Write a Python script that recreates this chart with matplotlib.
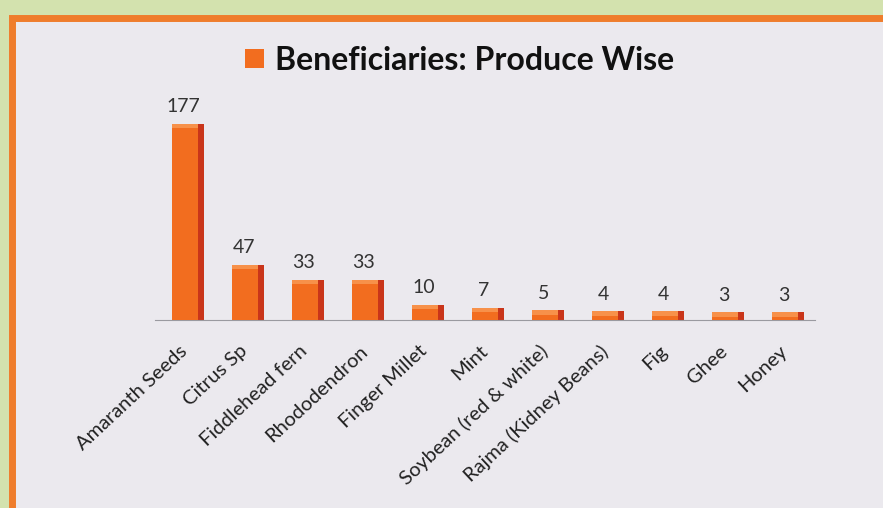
import matplotlib.pyplot as plt
from matplotlib.patches import Rectangle
from matplotlib.transforms import ScaledTranslation

# produce wise beneficiary counts
produce = ["Amaranth Seeds", "Citrus Sp", "Fiddlehead fern", "Rhododendron",
           "Finger Millet", "Mint", "Soybean (red & white)", "Rajma (Kidney Beans)",
           "Fig", "Ghee", "Honey"]
beneficiaries = [177, 47, 33, 33, 10, 7, 5, 4, 4, 3, 3]

plt.rcParams['font.family'] = ['Lato', 'DejaVu Sans']

fig = plt.figure(figsize=(8.83, 5.08), dpi=100)
fig.patch.set_facecolor('#d3e2ae')

# slide panel with orange frame, behind the chart
bg = fig.add_axes([0, 0, 1, 1], zorder=0)
bg.set_xlim(0, 883)
bg.set_ylim(508, 0)
bg.axis('off')
bg.add_patch(Rectangle((12, 18), 900, 520, facecolor='#ebe9ee',
                       edgecolor='#ef7d2c', linewidth=5))
# legend square next to title
bg.add_patch(Rectangle((245, 49), 19, 19, facecolor='#f26d1f', edgecolor='none'))

ax = fig.add_axes([155/883, 1 - 320/508, 660/883, 220/508], zorder=1)
ax.set_facecolor('none')

x = list(range(len(produce)))
w = 0.42
cap = 4
tops = [v + cap for v in beneficiaries]
# side face darker, top face lighter for the 3D look
ax.bar([i + w/2 + 0.055 for i in x], tops, width=0.11, color='#c9351a', zorder=2)
ax.bar(x, beneficiaries, width=w, color='#f26d1f', zorder=3)
ax.bar(x, [cap]*len(x), bottom=beneficiaries, width=w, color='#f7914a', zorder=3)

for i, v in zip(x, beneficiaries):
    ax.text(i - 0.02, v + 12, str(v), ha='center', va='bottom', fontsize=14, color='#333333')

ax.set_xlim(-0.5, 10.5)
ax.set_ylim(0, 203)
ax.set_yticks([])
ax.set_xticks(x)
ax.set_xticklabels(produce, rotation=43, ha='right', rotation_mode='anchor',
                   fontsize=14.5, color='#222222')
ax.tick_params(axis='x', length=0, pad=16)
shift = ScaledTranslation(-6/100, 0, fig.dpi_scale_trans)
for lbl in ax.get_xticklabels():
    lbl.set_transform(lbl.get_transform() + shift)
for s in ['top', 'right', 'left']:
    ax.spines[s].set_visible(False)
ax.spines['bottom'].set_color('#9a9aa0')

# title
fig.text(275/883, 1 - 60/508, 'Beneficiaries: Produce Wise', fontsize=23,
         fontweight='bold', color='#111111', va='center', ha='left')

fig.savefig('out.png', dpi=100, facecolor=fig.get_facecolor())
